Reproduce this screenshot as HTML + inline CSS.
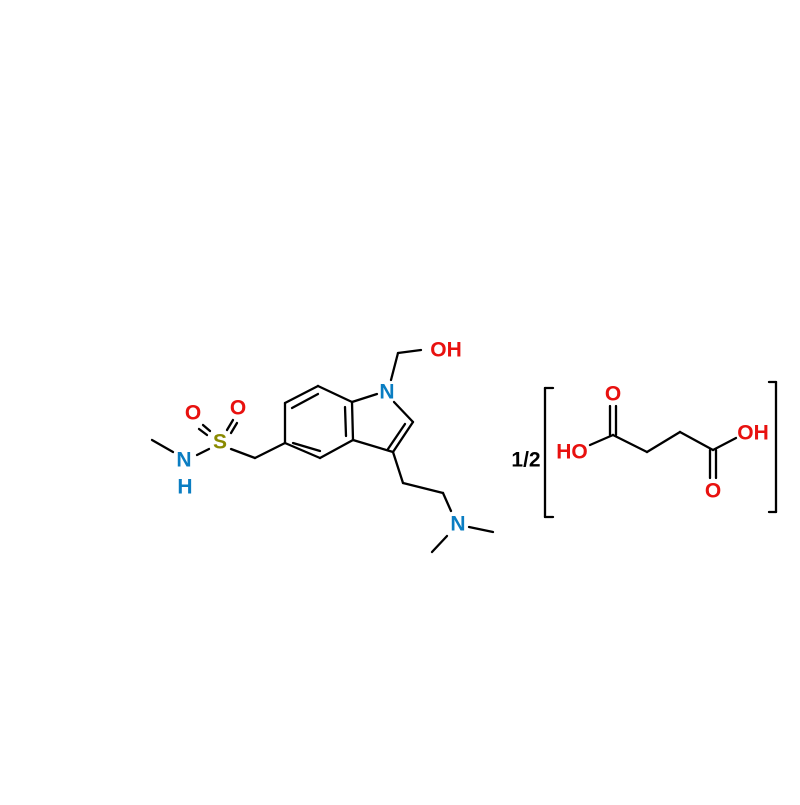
<!DOCTYPE html>
<html><head><style>body{margin:0;background:#fff}</style></head><body>
<svg width="800" height="800" viewBox="0 0 800 800" xmlns="http://www.w3.org/2000/svg" font-family="Liberation Sans, sans-serif" font-weight="bold" font-size="21">
<g stroke="#000" stroke-width="2.3" fill="none" stroke-linecap="round">
<line x1="152" y1="440" x2="173" y2="452"/>
<line x1="197" y1="455" x2="209" y2="449"/>
<line x1="231" y1="449" x2="255" y2="458"/>
<line x1="203" y1="425" x2="210" y2="431"/><line x1="199" y1="429" x2="207" y2="435"/>
<line x1="227" y1="430" x2="233" y2="420"/><line x1="231" y1="433" x2="237" y2="423"/>
<line x1="255" y1="458" x2="285" y2="443"/>
<line x1="285" y1="443" x2="320" y2="458"/>
<line x1="320" y1="458" x2="353" y2="440"/>
<line x1="353" y1="440" x2="352" y2="402"/>
<line x1="352" y1="402" x2="318" y2="386"/>
<line x1="318" y1="386" x2="285" y2="403"/>
<line x1="285" y1="403" x2="285" y2="443"/>
<line x1="292" y1="408" x2="318" y2="394"/>
<line x1="345" y1="407" x2="346" y2="436"/>
<line x1="293" y1="443" x2="320" y2="451"/>
<line x1="352" y1="402" x2="377" y2="394"/>
<line x1="394" y1="402" x2="413" y2="422"/>
<line x1="413" y1="422" x2="393" y2="452"/>
<line x1="405" y1="424" x2="388" y2="449"/>
<line x1="393" y1="452" x2="353" y2="440"/>
<line x1="393" y1="452" x2="403" y2="483"/>
<line x1="403" y1="483" x2="443" y2="493"/>
<line x1="443" y1="493" x2="451" y2="511"/>
<line x1="469" y1="527" x2="493" y2="532"/>
<line x1="447" y1="536" x2="432" y2="552"/>
<line x1="391" y1="380" x2="398" y2="353"/>
<line x1="398" y1="353" x2="421" y2="350"/>
<line x1="545" y1="388" x2="545" y2="517"/>
<line x1="545" y1="388" x2="553" y2="388"/><line x1="545" y1="517" x2="553" y2="517"/>
<line x1="776" y1="382" x2="776" y2="512"/>
<line x1="776" y1="382" x2="769" y2="382"/><line x1="776" y1="512" x2="769" y2="512"/>
<line x1="590" y1="445" x2="613" y2="435"/>
<line x1="610" y1="435" x2="610" y2="406"/><line x1="616" y1="435" x2="616" y2="406"/>
<line x1="613" y1="435" x2="647" y2="452"/>
<line x1="647" y1="452" x2="680" y2="432"/>
<line x1="680" y1="432" x2="713" y2="450"/>
<line x1="713" y1="450" x2="736" y2="438"/>
<line x1="710" y1="450" x2="710" y2="478"/><line x1="716" y1="450" x2="716" y2="478"/>
</g>
<g text-anchor="middle" dominant-baseline="central">
<text x="184" y="460" fill="#0a7dc2">N</text>
<text x="185" y="487" fill="#0a7dc2">H</text>
<text x="220" y="442" fill="#8a8a00">S</text>
<text x="193" y="413" fill="#e8110f">O</text>
<text x="238" y="408" fill="#e8110f">O</text>
<text x="387" y="392" fill="#0a7dc2">N</text>
<text x="446" y="350" fill="#e8110f">OH</text>
<text x="458" y="524" fill="#0a7dc2">N</text>
<text x="526" y="460" fill="#000">1/2</text>
<text x="572" y="452" fill="#e8110f">HO</text>
<text x="613" y="394" fill="#e8110f">O</text>
<text x="713" y="491" fill="#e8110f">O</text>
<text x="753" y="433" fill="#e8110f">OH</text>
</g>
</svg>
</body></html>
